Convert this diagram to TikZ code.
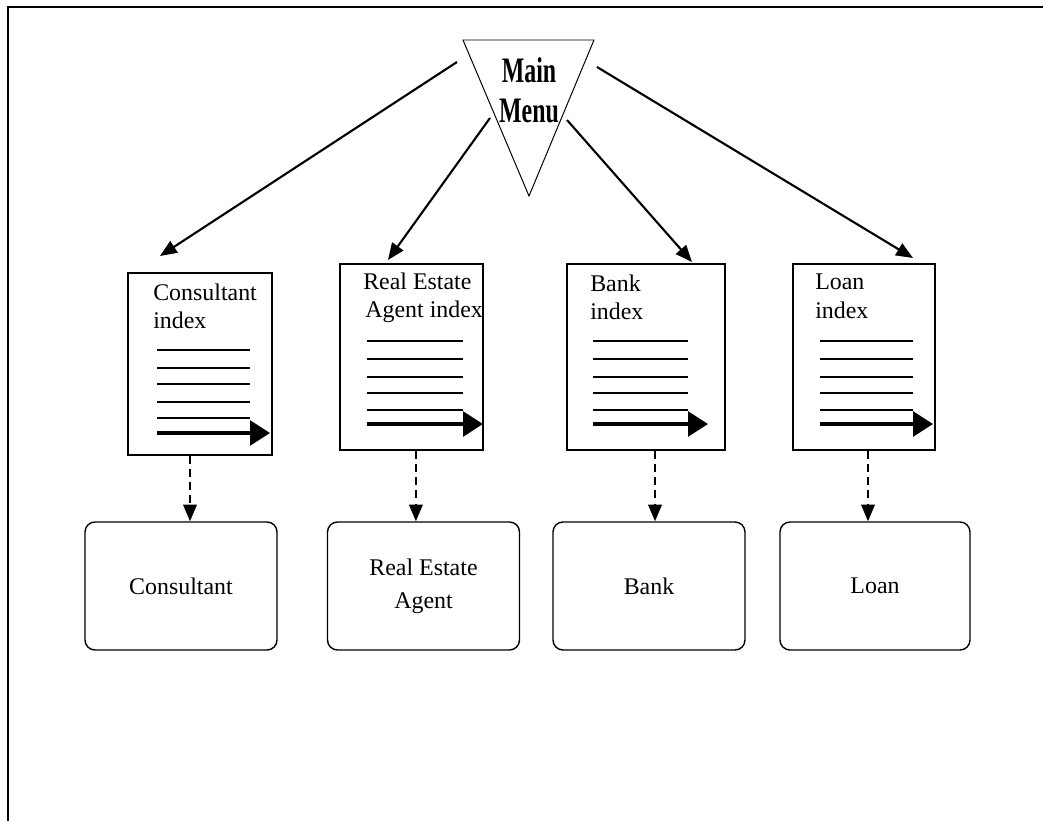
\documentclass[tikz,border=0pt]{standalone}
\usepackage{fontspec}
\setmainfont{Liberation Serif}
\usetikzlibrary{arrows.meta,positioning}

\begin{document}
\begin{tikzpicture}[x=0.25mm, y=-0.25mm,
    every node/.style={font=\fontsize{17}{20}\selectfont},
    doc/.style={rectangle, draw, line width=1pt, inner sep=0pt},
    dtxt/.style={anchor=north west, inner sep=0pt, align=left},
    box/.style={rectangle, draw, rounded corners=2.5mm, line width=1pt,
                minimum width=48mm, minimum height=32mm, align=center,
                font=\fontsize{17}{23.5}\selectfont},
    e/.style={-{Triangle[length=4.2mm, width=3.4mm]}, line width=1.5pt},
    de/.style={e, dash pattern=on 2mm off 1.3mm},
    ln/.style={line width=0.9pt},
    thk/.style={line width=2.4pt, -{Triangle[length=5mm, width=6.2mm]}},
  ]
  \useasboundingbox (0,0) rectangle (1043,821);
  % frame
  \draw[line width=2pt] (8,821) -- (8,7) -- (1043,7);

  % main menu
  \draw[line width=0.7pt] (463,40) -- (594,40) -- (529,196) -- cycle;
  \node[inner sep=0pt, anchor=north, align=center,
        font=\bfseries\fontsize{17}{28.5}\selectfont] (menu) at (529,57)
        {\scalebox{1}[1.5]{Main}\\\scalebox{1}[1.5]{Menu}};
  \coordinate (m1) at (457,62);
  \coordinate (m2) at (490,118);
  \coordinate (m3) at (567,120);
  \coordinate (m4) at (597,67);

  % index pages
  \node[doc, minimum width=36mm, minimum height=45.5mm] (cdoc) at (200,364) {};
  \node[doc, minimum width=35.75mm, minimum height=46.5mm] (rdoc) at (411.5,357) {};
  \node[doc, minimum width=39.5mm, minimum height=46.5mm] (bdoc) at (646,357) {};
  \node[doc, minimum width=35.5mm, minimum height=46.5mm] (ldoc) at (864,357) {};
  \node[dtxt] (ctxt) at (153,284) {Consultant\\index};
  \node[dtxt] (rtxt) at (363,273) {Real Estate\\\hspace{1.5pt}Agent index};
  \node[dtxt] (btxt) at (590,275) {Bank\\index};
  \node[dtxt] (ltxt) at (815,274) {Loan\\index};

  \foreach \y in {350,368,384,402,418} \draw[ln] (157,\y) -- (250,\y);
  \draw[thk] (157,433) -- (270,433);
  \foreach \y in {341,359,377,393,410} \draw[ln] (367,\y) -- (463,\y);
  \draw[thk] (367,424) -- (483,424);
  \foreach \y in {341,359,377,393,410} \draw[ln] (593,\y) -- (688,\y);
  \draw[thk] (593,424) -- (708,424);
  \foreach \y in {341,359,377,393,410} \draw[ln] (820,\y) -- (913,\y);
  \draw[thk] (820,424) -- (933,424);

  \coordinate (t1) at (160,256);
  \coordinate (t2) at (388,260);
  \coordinate (t3) at (692,262);
  \coordinate (t4) at (913,258);

  % records
  \node[box] (cbox) at (181,586) {Consultant};
  \node[box] (rbox) at (423.5,586) {Real Estate\\Agent};
  \node[box] (bbox) at (649,586) {Bank};
  \node[box, minimum width=47.5mm] (lbox) at (875,586) {Loan};

  \draw[e] (m1) -- (t1);
  \draw[e] (m2) -- (t2);
  \draw[e] (m3) -- (t3);
  \draw[e] (m4) -- (t4);

  \draw[de] ([xshift=-2.5mm]cdoc.south) -- ([xshift=-2.5mm]cdoc.south |- cbox.north);
  \draw[de] ([xshift=1.1mm]rdoc.south) -- ([xshift=1.1mm]rdoc.south |- rbox.north);
  \draw[de] ([xshift=2.25mm]bdoc.south) -- ([xshift=2.25mm]bdoc.south |- bbox.north);
  \draw[de] ([xshift=1mm]ldoc.south) -- ([xshift=1mm]ldoc.south |- lbox.north);
\end{tikzpicture}
\end{document}
